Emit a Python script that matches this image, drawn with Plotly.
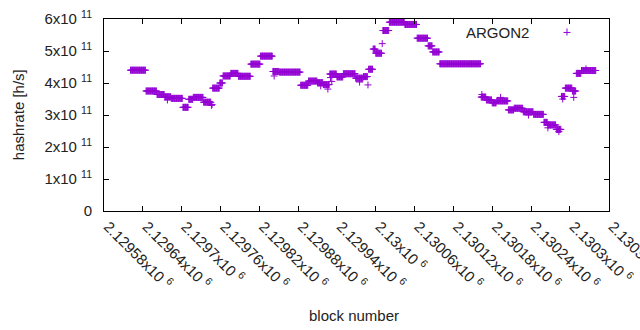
import numpy as np
import plotly.graph_objects as go

# ---- data ----
# runs of constant estimated hashrate: first block, last block, value (x1e11 h/s)
run_start = [2129621, 2129645, 2129662, 2129674, 2129684, 2129702, 2129711, 2129718, 2129734,
             2129748, 2129759, 2129764, 2129776, 2129788, 2129807, 2129822, 2129841, 2129851,
             2129884, 2129896, 2129910, 2129919, 2129929, 2129940, 2129950, 2129969, 2129981,
             2129989, 2129996, 2130000, 2130011, 2130021, 2130045, 2130064, 2130081, 2130088,
             2130099, 2130163, 2130171, 2130180, 2130187, 2130205, 2130214, 2130228, 2130244,
             2130260, 2130266, 2130279, 2130287, 2130293, 2130304, 2130310, 2130318]
run_end = [2129644, 2129661, 2129673, 2129683, 2129701, 2129710, 2129717, 2129733, 2129745,
           2129758, 2129763, 2129775, 2129787, 2129806, 2129821, 2129840, 2129850, 2129883,
           2129895, 2129909, 2129918, 2129928, 2129939, 2129949, 2129968, 2129980, 2129987,
           2129995, 2129999, 2130009, 2130020, 2130044, 2130063, 2130080, 2130087, 2130098,
           2130162, 2130170, 2130179, 2130186, 2130204, 2130213, 2130227, 2130243, 2130259,
           2130265, 2130278, 2130286, 2130292, 2130303, 2130309, 2130317, 2130340]
run_value = [4.40, 3.75, 3.64, 3.57, 3.52, 3.24, 3.49, 3.55, 3.40,
             3.84, 4.00, 4.22, 4.30, 4.21, 4.59, 4.84, 4.36, 4.34,
             3.93, 4.06, 4.01, 3.95, 4.28, 4.19, 4.29, 4.15, 4.20,
             4.43, 5.06, 4.93, 5.64, 5.90, 5.83, 5.40, 5.16, 4.97,
             4.60, 3.56, 3.47, 3.38, 3.44, 3.16, 3.21, 3.10, 3.02,
             2.77, 2.69, 2.55, 3.58, 3.84, 3.75, 4.30, 4.39]

# individual outlying blocks
extra_block = [2129678, 2129746, 2129747, 2129843, 2129915, 2129926, 2129930, 2129932,
               2129975, 2129988, 2130010, 2130164, 2130193, 2130236, 2130266, 2130283,
               2130289, 2130306, 2130325]
extra_value = [3.47, 3.30, 3.33, 4.22, 3.91, 3.81, 4.17, 4.05,
               4.03, 3.94, 5.23, 3.64, 3.55, 3.00, 2.60, 2.48,
               3.50, 3.55, 4.44]

x_tick_vals = [2129580 + 60 * i for i in range(14)]
x_tick_text = ["2.12958x10 <sup>6</sup>", "2.12964x10 <sup>6</sup>", "2.1297x10 <sup>6</sup>",
               "2.12976x10 <sup>6</sup>", "2.12982x10 <sup>6</sup>", "2.12988x10 <sup>6</sup>",
               "2.12994x10 <sup>6</sup>", "2.13x10 <sup>6</sup>", "2.13006x10 <sup>6</sup>",
               "2.13012x10 <sup>6</sup>", "2.13018x10 <sup>6</sup>", "2.13024x10 <sup>6</sup>",
               "2.1303x10 <sup>6</sup>", "2.13036x10 <sup>6</sup>"]
y_tick_vals = [0, 1e11, 2e11, 3e11, 4e11, 5e11, 6e11]
y_tick_text = ["0", "1x10 <sup>11</sup>", "2x10 <sup>11</sup>", "3x10 <sup>11</sup>",
               "4x10 <sup>11</sup>", "5x10 <sup>11</sup>", "6x10 <sup>11</sup>"]

# ---- expand runs into one point per block ----
blocks, rates = [], []
for s, e, v in zip(run_start, run_end, run_value):
    for b in range(s, e + 1):
        blocks.append(b)
        rates.append(v * 1e11)
for b, v in zip(extra_block, extra_value):
    blocks.append(b)
    rates.append(v * 1e11)

PURPLE = "#9400D3"
FONT = "Liberation Sans"
TXT = "#222222"

fig = go.Figure()
fig.add_trace(go.Scatter(
    x=blocks, y=rates, mode="markers", name="ARGON2",
    marker=dict(symbol="cross-thin", size=5, color=PURPLE,
                line=dict(color=PURPLE, width=1)),
    showlegend=False,
))

axis_common = dict(showline=True, linecolor="black", linewidth=1, mirror="ticks",
                   ticks="inside", ticklen=5, tickcolor="black", showgrid=False,
                   zeroline=False, automargin=False, ticklabeloverflow="allow",
                   tickfont=dict(family=FONT, size=15, color=TXT))

fig.update_layout(
    width=640, height=330,
    margin=dict(l=104, r=31, t=19, b=119),
    paper_bgcolor="white", plot_bgcolor="white",
    font=dict(family=FONT, size=15, color=TXT),
    xaxis=dict(range=[2129580, 2130360.5], tickmode="array", tickvals=x_tick_vals,
               ticktext=x_tick_text, tickangle=45, ticklabelshift=4, **axis_common),
    yaxis=dict(range=[0, 6e11], tickmode="array", tickvals=y_tick_vals,
               ticktext=y_tick_text, ticklabelstandoff=8, **axis_common),
    annotations=[
        dict(text="block number", xref="paper", yref="paper", x=0.495, y=-0.542,
             showarrow=False, xanchor="center", yanchor="middle",
             font=dict(family=FONT, size=15, color=TXT)),
        dict(text="hashrate [h/s]", xref="paper", yref="paper", x=-0.170, y=0.5,
             showarrow=False, xanchor="center", yanchor="middle", textangle=-90,
             font=dict(family=FONT, size=15, color=TXT)),
        dict(text="ARGON2", xref="paper", yref="paper", x=0.8455, y=0.932,
             showarrow=False, xanchor="right", yanchor="middle",
             font=dict(family=FONT, size=15, color=TXT)),
    ],
    shapes=[
        dict(type="line", xref="paper", yref="paper", x0=0.9099, x1=0.9238, y0=0.930, y1=0.930,
             line=dict(color=PURPLE, width=1)),
        dict(type="line", xref="paper", yref="paper", x0=0.9168, x1=0.9168, y0=0.9505, y1=0.9141,
             line=dict(color=PURPLE, width=1)),
    ],
)

fig.write_html("out.html",
               config={"displayModeBar": False},
               post_script="document.body.style.margin='0';document.body.style.overflow='hidden';")
